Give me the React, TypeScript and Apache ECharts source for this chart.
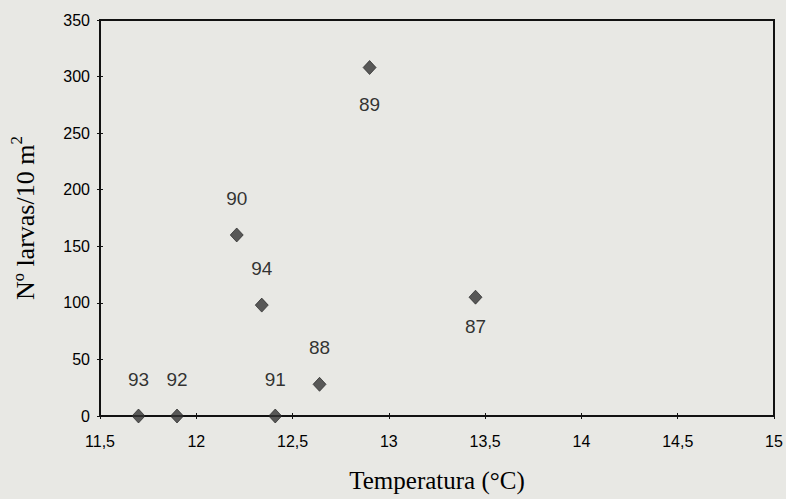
import React, { useEffect, useRef } from "react";
import * as echarts from "echarts";

const years = ["93", "92", "91", "90", "94", "88", "89", "87"];
const temperatures = [11.7, 11.9, 12.41, 12.21, 12.34, 12.64, 12.9, 13.45];
const larvae = [0, 0, 0, 160, 98, 28, 308, 105];
const labelsBelow = ["89", "87"];

const xTicks = { min: 11.5, max: 15, interval: 0.5 };
const yTicks = { min: 0, max: 350, interval: 50 };

const xTitle = "Temperatura (°C)";
const yTitleMain = "Nº larvas/10 m";
const yTitleSup = "2";

const fmt = (v: number) => String(v).replace(".", ",");

export default function App() {
  const ref = useRef<HTMLDivElement>(null);
  useEffect(() => {
    if (!ref.current) return;
    const chart = echarts.init(ref.current, null, { renderer: "svg" });
    const sans = "'Liberation Sans', Arial, sans-serif";
    const serif = "'Liberation Serif', 'Times New Roman', serif";
    const axisLine = { show: true, lineStyle: { color: "#111", width: 2 } };
    chart.setOption({
      animation: false,
      backgroundColor: "#e8e8e4",
      grid: {
        left: 97,
        right: 12,
        top: 20,
        bottom: 83,
        show: true,
        borderColor: "#111",
        borderWidth: 2,
        backgroundColor: "transparent",
      },
      xAxis: [
        {
          type: "value",
          ...xTicks,
          name: xTitle,
          nameLocation: "middle",
          nameGap: 52,
          nameTextStyle: { fontFamily: serif, fontSize: 25, color: "#000" },
          axisLine,
          axisTick: { show: true, length: 3, lineStyle: { color: "#111", width: 1 } },
          axisLabel: { formatter: fmt, fontFamily: sans, fontSize: 16, color: "#000", margin: 17 },
          splitLine: { show: false },
        },
        {
          type: "value",
          ...xTicks,
          position: "bottom",
          axisLine: { show: false },
          axisTick: { show: true, inside: true, length: 3, lineStyle: { color: "#111", width: 1 } },
          axisLabel: { show: false },
          splitLine: { show: false },
        },
      ],
      yAxis: [
        {
          type: "value",
          ...yTicks,
          name: `{a|${yTitleMain}}{s|${yTitleSup}}`,
          nameLocation: "middle",
          nameGap: 62,
          nameTextStyle: {
            fontFamily: serif,
            fontSize: 26,
            color: "#000",
            rich: {
              a: { fontFamily: serif, fontSize: 26, color: "#000", lineHeight: 30, verticalAlign: "bottom" },
              s: { fontFamily: serif, fontSize: 17, color: "#000", lineHeight: 17, verticalAlign: "top" },
            },
          },
          axisLine,
          axisTick: { show: true, length: 3, lineStyle: { color: "#111", width: 1 } },
          axisLabel: { fontFamily: sans, fontSize: 16, color: "#000", margin: 10 },
          splitLine: { show: false },
        },
        {
          type: "value",
          ...yTicks,
          position: "left",
          axisLine: { show: false },
          axisTick: { show: true, inside: true, length: 3, lineStyle: { color: "#111", width: 1 } },
          axisLabel: { show: false },
          splitLine: { show: false },
        },
      ],
      series: [
        {
          type: "scatter",
          symbol: "diamond",
          symbolSize: [13, 14],
          itemStyle: { color: "#333", borderColor: "#1a1a1a", borderWidth: 0.8 },
          data: years.map((y, i) => ({
            name: y,
            value: [temperatures[i], larvae[i]],
            label: {
              show: true,
              formatter: y,
              position: labelsBelow.includes(y) ? "bottom" : "top",
              distance: labelsBelow.includes(y) ? (y === "87" ? 12 : 20) : 20,
              fontFamily: sans,
              fontSize: 19,
              color: "#000",
            },
          })),
        },
      ],
    });
    return () => chart.dispose();
  }, []);
  return (
    <div
      ref={ref}
      style={{ position: "fixed", left: 0, top: 0, width: 786, height: 499 }}
    />
  );
}
